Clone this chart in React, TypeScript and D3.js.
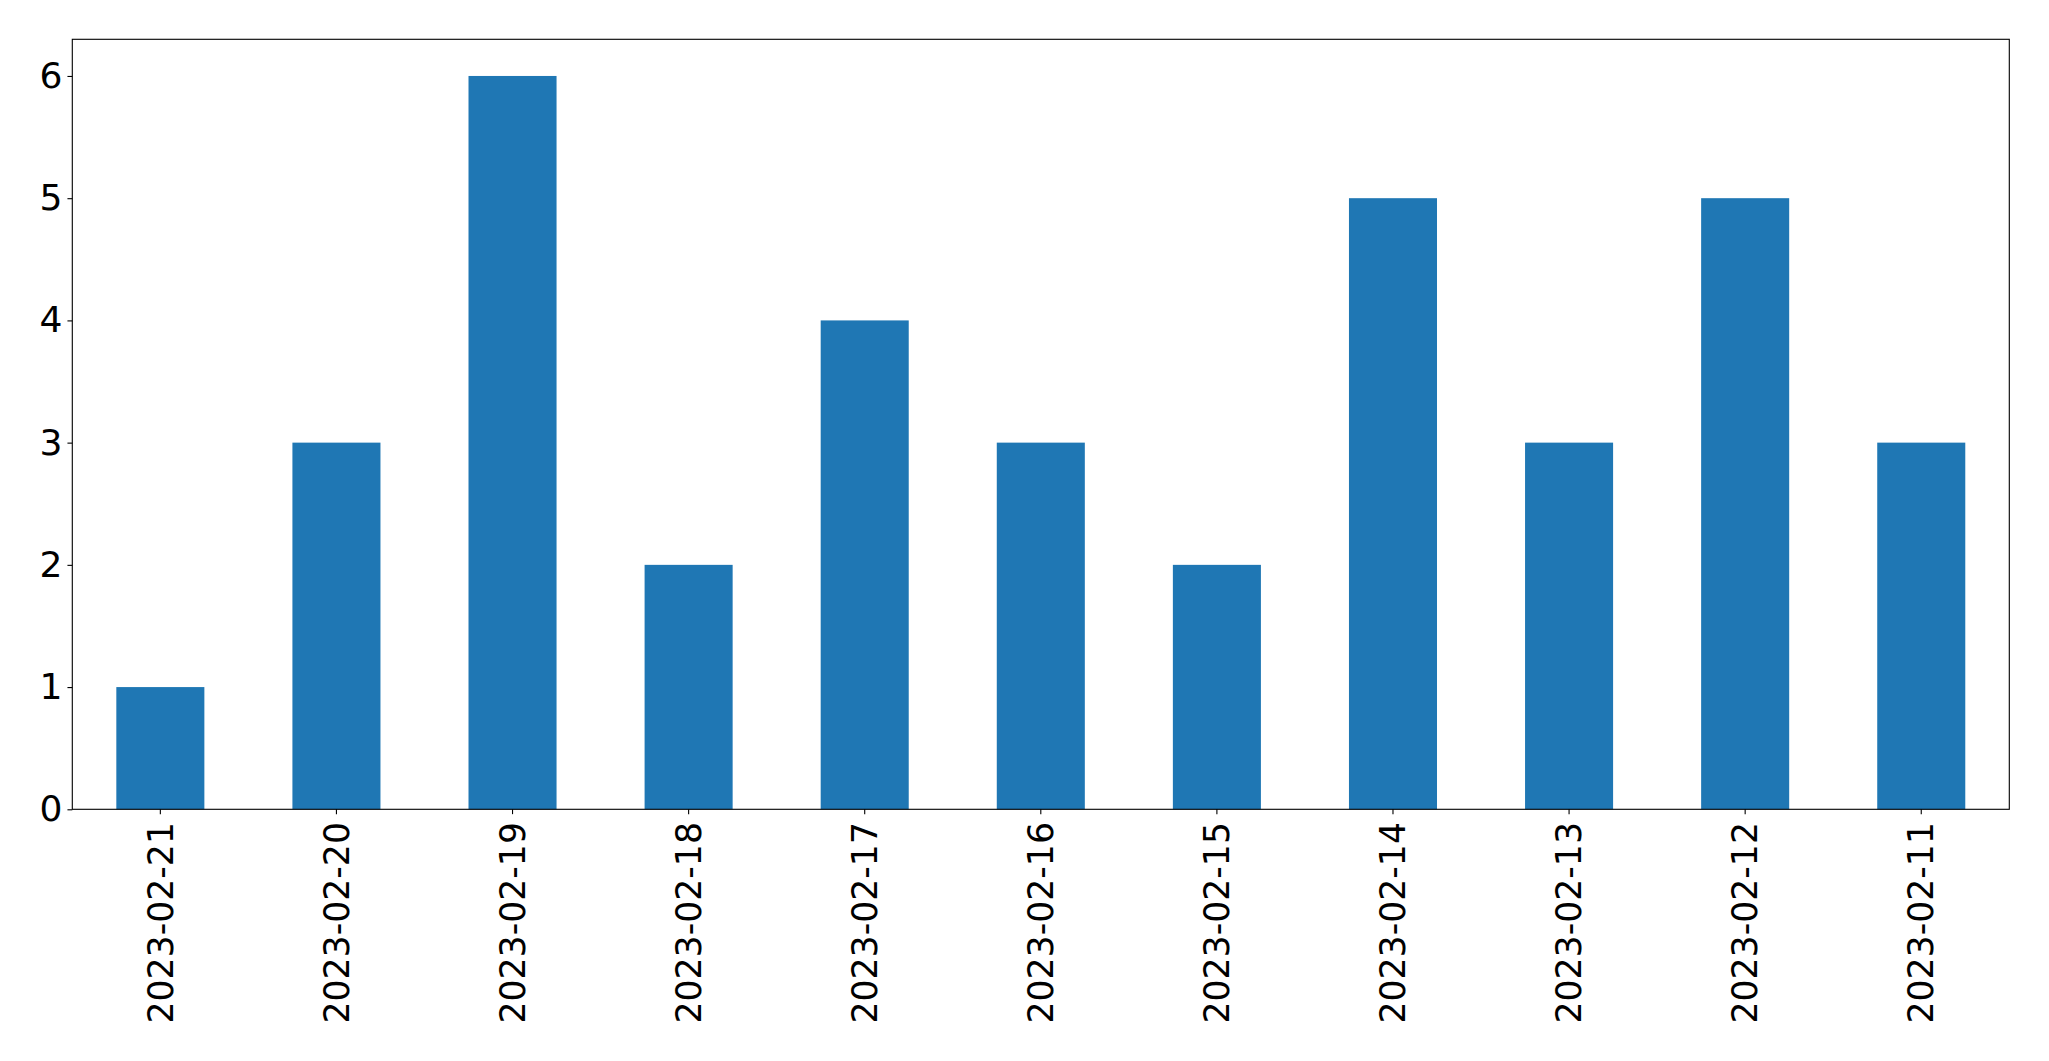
import { useEffect, useRef } from "react";
import * as d3 from "d3";

const dates = [
  "2023-02-21",
  "2023-02-20",
  "2023-02-19",
  "2023-02-18",
  "2023-02-17",
  "2023-02-16",
  "2023-02-15",
  "2023-02-14",
  "2023-02-13",
  "2023-02-12",
  "2023-02-11",
];
const counts = [1, 3, 6, 2, 4, 3, 2, 5, 3, 5, 3];
const yTicks = [0, 1, 2, 3, 4, 5, 6];

const W = 2049;
const H = 1061;
const margin = { top: 39.3, right: W - 2009.3, bottom: H - 809.3, left: 72.3 };

export default function App() {
  const svgRef = useRef<SVGSVGElement | null>(null);

  useEffect(() => {
    const svgEl = svgRef.current;
    if (!svgEl) return;
    const svg = d3.select(svgEl);
    svg.selectAll("*").remove();

    const innerW = W - margin.left - margin.right;
    const innerH = H - margin.top - margin.bottom;
    const font = "'DejaVu Sans', sans-serif";
    const fsX = 34.7;
    const fsY = 36.1;
    const tick = 4.86;
    const pad = 4.86;

    const x = d3
      .scaleBand<string>()
      .domain(dates)
      .range([0, innerW])
      .paddingInner(0.5)
      .paddingOuter(0.25);

    const yMax = d3.max(counts)! * 1.05;
    const y = d3.scaleLinear().domain([0, yMax]).range([innerH, 0]);

    const g = svg.append("g").attr("transform", `translate(${margin.left},${margin.top})`);

    g.selectAll("rect.bar")
      .data(counts)
      .enter()
      .append("rect")
      .attr("class", "bar")
      .attr("x", (_, i) => x(dates[i])!)
      .attr("y", (d) => y(d))
      .attr("width", x.bandwidth())
      .attr("height", (d) => innerH - y(d))
      .attr("fill", "#1f77b4");

    // frame
    g.append("rect")
      .attr("x", 0)
      .attr("y", 0)
      .attr("width", innerW)
      .attr("height", innerH)
      .attr("fill", "none")
      .attr("stroke", "#000")
      .attr("stroke-width", 1.11);

    // y axis
    const yAxis = g
      .append("g")
      .call(d3.axisLeft(y).tickValues(yTicks).tickSize(tick).tickPadding(pad).tickFormat(d3.format("d")));
    yAxis.select(".domain").remove();
    yAxis.selectAll(".tick line").attr("stroke", "#000").attr("stroke-width", 1.11);
    yAxis
      .selectAll(".tick text")
      .attr("font-family", font)
      .attr("font-size", fsY)
      .attr("fill", "#000");

    // x axis
    const xAxis = g
      .append("g")
      .attr("transform", `translate(0,${innerH})`)
      .call(d3.axisBottom(x).tickSize(tick).tickPadding(pad));
    xAxis.select(".domain").remove();
    xAxis.selectAll(".tick line").attr("stroke", "#000").attr("stroke-width", 1.11);
    xAxis
      .selectAll(".tick text")
      .attr("font-family", font)
      .attr("font-size", fsX)
      .attr("fill", "#000")
      .attr("text-anchor", "end")
      .attr("dy", "0.35em")
      .attr("transform", `rotate(-90) translate(${-(tick + pad + 3)},0)`)
      .attr("x", 0)
      .attr("y", 0);
  }, []);

  return (
    <svg
      ref={svgRef}
      width={W}
      height={H}
      style={{ position: "fixed", left: 0, top: 0, background: "#fff", display: "block" }}
    />
  );
}
